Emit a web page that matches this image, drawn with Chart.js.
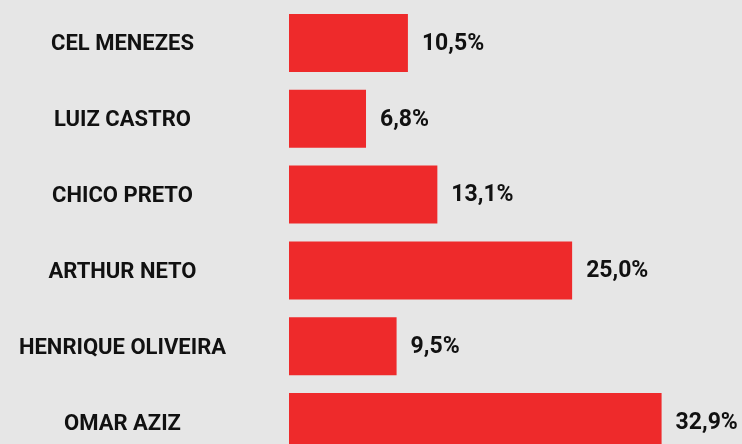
<!DOCTYPE html>
<html>
<head>
<meta charset="utf-8">
<script src="https://cdn.jsdelivr.net/npm/chart.js@4"></script>
<style>
  html, body { margin: 0; padding: 0; background: #e6e6e6; overflow: hidden; }
  #wrap { width: 742px; height: 444px; overflow: hidden; }
  #box { position: relative; width: 742px; height: 460px; }
</style>
</head>
<body>
<div id="wrap"><div id="box"><canvas id="chartVotos"></canvas></div></div>
<script>
let candidatos = ['CEL MENEZES', 'LUIZ CASTRO', 'CHICO PRETO', 'ARTHUR NETO', 'HENRIQUE OLIVEIRA', 'OMAR AZIZ'];
let votos = [10.5, 6.8, 13.1, 25.0, 9.5, 32.9];

// valeurs à droite des barres
const valueLabels = {
    id: 'valueLabels',
    afterDatasetsDraw(chart) {
        const ctx = chart.ctx;
        const meta = chart.getDatasetMeta(0);
        ctx.save();
        ctx.font = 'bold 23px Roboto';
        ctx.fillStyle = '#111111';
        ctx.textAlign = 'left';
        ctx.textBaseline = 'middle';
        meta.data.forEach((bar, i) => {
            let txt = votos[i].toFixed(1).replace('.', ',') + '%';
            ctx.fillText(txt, bar.x + 14, bar.y + 1);
        });
        ctx.restore();
    }
};

let ctxVotos = document.querySelector('#chartVotos').getContext('2d');
let chartVotos = new Chart(ctxVotos, {
    type: 'bar',
    data: {
        labels: candidatos,
        datasets: [
            {
                data: votos,
                backgroundColor: '#ee2a2b',
                borderWidth: 0,
                barPercentage: 0.765,
                categoryPercentage: 1
            }
        ]
    },
    options: {
        indexAxis: 'y',
        maintainAspectRatio: false,
        animation: false,
        layout: { padding: { top: 5, right: 0, bottom: 0, left: 0 } },
        plugins: {
            legend: { display: false },
            tooltip: { enabled: false }
        },
        scales: {
            x: {
                display: false,
                min: 0,
                max: 40
            },
            y: {
                grid: { display: false },
                border: { display: false },
                afterFit(scale) {
                    scale.width = 289;
                    scale.paddingTop = 0;
                    scale.paddingBottom = 0;
                },
                ticks: {
                    crossAlign: 'center',
                    padding: 55,
                    labelOffset: 2,
                    color: '#111111',
                    font: { family: 'Roboto', size: 22, weight: 'bold' }
                }
            }
        }
    },
    plugins: [valueLabels]
});
</script>
</body>
</html>
